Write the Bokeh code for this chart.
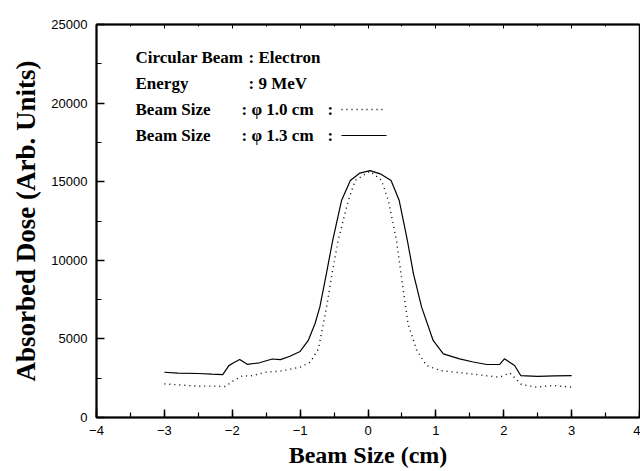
from bokeh.plotting import figure
from bokeh.models import Range1d, LinearAxis, Label, SingleIntervalTicker
from bokeh.embed import file_html
from bokeh.resources import INLINE

# ---- data ----
x_13 = [-3.0, -2.8, -2.5, -2.3, -2.14, -2.05, -1.98, -1.89, -1.78, -1.6, -1.41, -1.29,
        -1.15, -1.0, -0.88, -0.78, -0.71, -0.62, -0.52, -0.39, -0.26, -0.12, 0.03,
        0.18, 0.34, 0.46, 0.58, 0.67, 0.79, 0.96, 1.11, 1.35, 1.55, 1.75, 1.94, 2.01,
        2.16, 2.25, 2.5, 2.75, 3.0]
y_13 = [2880, 2820, 2800, 2760, 2730, 3300, 3480, 3690, 3380, 3480, 3720, 3680,
        3900, 4200, 4900, 5980, 7020, 9000, 11260, 13800, 15076, 15550, 15700,
        15500, 15076, 13800, 11260, 9140, 7020, 4900, 4050, 3730, 3530, 3370, 3380, 3730,
        3310, 2670, 2620, 2650, 2670]

x_10 = [-3.0, -2.75, -2.5, -2.3, -2.1, -1.98, -1.84, -1.75, -1.5, -1.29, -1.0, -0.85,
        -0.73, -0.61, -0.53, -0.44, -0.29, -0.19, 0.03, 0.2, 0.30, 0.42, 0.52, 0.59,
        0.72, 0.86, 1.06, 1.5, 1.94, 2.09, 2.26, 2.48, 2.72, 3.0]
y_10 = [2140, 2060, 1990, 2000, 1970, 2350, 2670, 2620, 2880, 2950, 3200, 3520,
        4370, 7020, 9150, 11260, 13800, 15076, 15670, 15076, 13800, 11260, 8080, 5960,
        4260, 3310, 2990, 2780, 2560, 2840, 2100, 1930, 2040, 1930]

legend_labels = ["Circular Beam", "Energy", "Beam Size", "Beam Size"]
legend_values = ["Electron", "9 MeV", "\u03c6 1.0 cm", "\u03c6 1.3 cm"]

x_title = "Beam Size (cm)"
y_title = "Absorbed Dose (Arb. Units)"

# ---- layout ----
W, H = 640, 471
L, R, T, B = 96, 1, 24, 54
XMIN, XMAX, YMIN, YMAX = -4, 4, 0, 25000
FW, FH = W - L - R, H - T - B

def X(px):
    return XMIN + (px - L) / FW * (XMAX - XMIN)

def Y(py):
    return YMIN + (H - B - py) / FH * (YMAX - YMIN)

p = figure(width=W, height=H, output_backend="svg", toolbar_location=None,
           x_range=Range1d(XMIN, XMAX), y_range=Range1d(YMIN, YMAX),
           min_border_left=L, min_border_right=R, min_border_top=T, min_border_bottom=B)
p.grid.visible = False
p.outline_line_color = "black"
p.outline_line_width = 1.5
p.background_fill_color = "white"
p.border_fill_color = "white"

for ax in (p.xaxis[0], p.yaxis[0]):
    ax.axis_line_width = 2
    ax.major_tick_in = 8
    ax.major_tick_out = 0
    ax.minor_tick_in = 5
    ax.minor_tick_out = 0
    ax.major_tick_line_width = 1.5
    ax.minor_tick_line_width = 1.2
    ax.major_label_text_font = "Liberation Sans"
    ax.major_label_text_font_size = "13px"
    ax.major_label_text_color = "black"
    ax.axis_label_text_font = "Liberation Serif"
    ax.axis_label_text_font_style = "bold"
    ax.axis_label_text_color = "black"

p.xaxis[0].axis_label_text_font_size = "24px"
p.yaxis[0].axis_label_text_font_size = "27px"
p.xaxis[0].ticker = SingleIntervalTicker(interval=1, num_minor_ticks=2)
p.yaxis[0].ticker = SingleIntervalTicker(interval=5000, num_minor_ticks=2)
p.xaxis[0].axis_label = x_title
p.yaxis[0].axis_label = y_title
p.xaxis[0].major_label_standoff = 8
p.yaxis[0].major_label_standoff = 9
p.xaxis[0].axis_label_standoff = 4
p.yaxis[0].axis_label_standoff = 7

top = LinearAxis(ticker=SingleIntervalTicker(interval=1, num_minor_ticks=2))
top.major_tick_in = 4
top.major_tick_out = 0
top.minor_tick_in = 2
top.minor_tick_out = 0
top.axis_line_width = 2
top.major_label_text_font_size = "1px"
top.major_label_text_alpha = 0
top.major_label_standoff = 0
p.add_layout(top, "above")

p.line(x_13, y_13, line_color="black", line_width=1.2)
p.line(x_10, y_10, line_color="black", line_width=1.4, line_dash="1 4")

FS = "17px"

def put(txt, px, py):
    p.add_layout(Label(x=X(px), y=Y(py), text=txt, text_font="Liberation Serif",
                       text_font_style="bold", text_font_size=FS,
                       text_color="black", text_baseline="middle"))

rows = [57, 83, 109, 135]
colon_x = [248, 248, 241, 241]
value_x = [258, 258, 251, 251]
for i in range(4):
    put(legend_labels[i], 135, rows[i])
    put(":", colon_x[i], rows[i])
    put(legend_values[i], value_x[i], rows[i])
for i in (2, 3):
    put(":", 327, rows[i])
p.line([X(341), X(386)], [Y(rows[2]), Y(rows[2])], line_color="black", line_width=1.4, line_dash="1 4")
p.line([X(341), X(386)], [Y(rows[3]), Y(rows[3])], line_color="black", line_width=1.2)

open("out.html", "w").write(file_html(p, INLINE))
